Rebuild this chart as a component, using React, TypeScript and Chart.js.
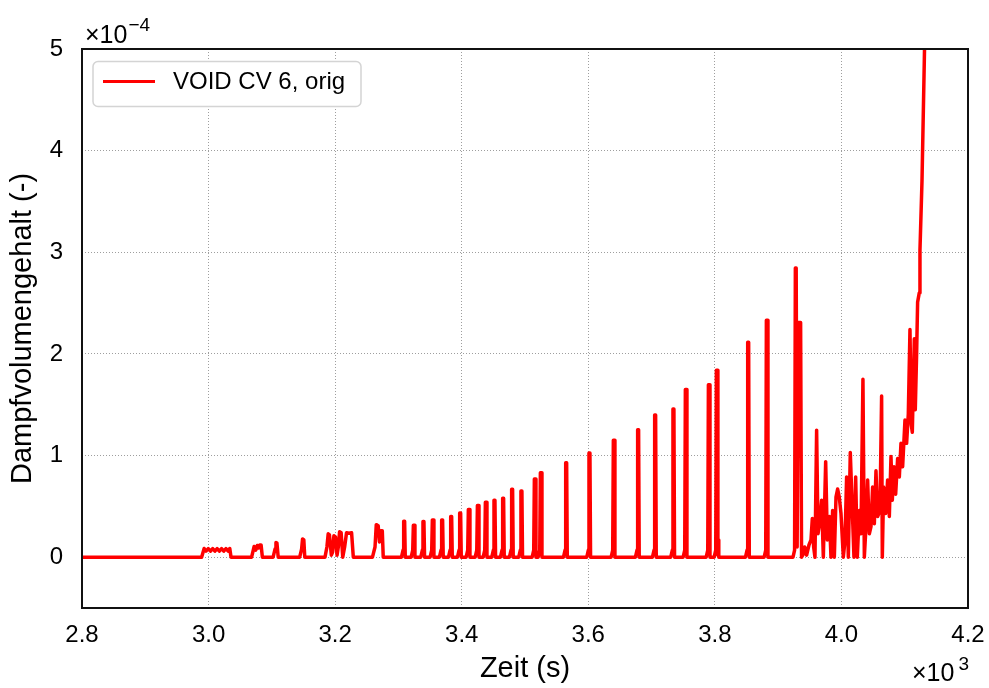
import React, { useEffect, useRef } from "react";
import { Chart, registerables } from "chart.js";

Chart.register(...registerables);

// x tick values (s) and y tick values (×10^-4)
const xTicks = [2800, 3000, 3200, 3400, 3600, 3800, 4000, 4200];
const yTicks = [0, 1, 2, 3, 4, 5];

const seriesLabel = "VOID CV 6, orig";

// Zeit in s
const zeitS = [
  2800,
  2989, 2993, 2996, 2999.5, 3003, 3006.5, 3010, 3013.5, 3017, 3020.5, 3024, 3027.5, 3031, 3033.5, 3035.5,
  3068, 3072, 3074.5, 3077, 3079, 3081, 3083, 3085,
  3102, 3105, 3106.5, 3108, 3110,
  3144, 3147, 3148.5, 3150.5, 3152,
  3184, 3187, 3189, 3191, 3194, 3196, 3198, 3200.5, 3203, 3205, 3207, 3209.5, 3212, 3215, 3218, 3222, 3226, 3228.7,
  3259, 3263, 3265, 3268, 3270, 3272, 3274.5, 3276,
  3304.8, 3307.3, 3308.3, 3309.8, 3310.8,
  3320.1, 3322.6, 3323.6, 3325.1, 3326.1,
  3335.3, 3337.8, 3338.8, 3340.3, 3341.3,
  3350.1, 3352.6, 3353.6, 3355.1, 3356.1,
  3364.8, 3367.3, 3368.3, 3369.8, 3370.8,
  3379.1, 3381.6, 3382.6, 3384.1, 3385.1,
  3393.3, 3395.8, 3396.8, 3398.3, 3399.3,
  3407, 3409.5, 3410.5, 3412, 3413,
  3421.3, 3423.8, 3424.8, 3426.3, 3427.3,
  3433.9, 3436.4, 3437.4, 3438.9, 3439.9,
  3447.5, 3450, 3451, 3452.5, 3453.5,
  3461.2, 3463.7, 3464.7, 3466.2, 3467.2,
  3475.4, 3477.9, 3478.9, 3480.4, 3481.4,
  3490.1, 3492.6, 3493.6, 3495.1, 3496.1,
  3511.3, 3513.8, 3514.8, 3516.3, 3517.3,
  3520.8, 3523.3, 3524.3, 3525.8, 3526.8,
  3560.8, 3563.3, 3564.3, 3565.8, 3566.8,
  3597.6, 3600.1, 3601.1, 3602.6, 3603.6,
  3636.1, 3638.6, 3639.6, 3641.1, 3642.1,
  3674.5, 3677, 3678, 3679.5, 3680.5,
  3701.4, 3703.9, 3704.9, 3706.4, 3707.4,
  3730.3, 3732.8, 3733.8, 3735.3, 3736.3,
  3749.9, 3752.4, 3753.4, 3754.9, 3755.9,
  3786.3, 3788.8, 3789.8, 3791.3, 3792.3,
  3798.9, 3801.4, 3802.4, 3803.9, 3804.8, 3805.4, 3806.2,
  3848.4, 3850.9, 3851.9, 3853.4, 3854.4,
  3877.9, 3880.4, 3881.4, 3882.9, 3883.9,
  3923.5, 3926, 3927.2, 3928.5, 3930, 3932, 3935.5, 3937,
  3939.8, 3942, 3945, 3948.7, 3951.9, 3954, 3956.1, 3958.2, 3960.8, 3963, 3966.1,
  3968.7, 3971.4, 3975.1, 3977.7, 3980.9, 3983.5, 3986.1, 3988.8, 3991.4, 3994,
  3996.6, 3999.3, 4003, 4005.6, 4008.2, 4010.9, 4014, 4017.2, 4019.8, 4022.5,
  4025.1, 4028.3, 4030.9, 4034, 4036.2, 4038.8, 4041.4, 4044.1, 4046.7, 4049.3,
  4052, 4054.6, 4057.2, 4060.9, 4063.5, 4064.6, 4066.7, 4069.9, 4073, 4075.7,
  4078.3, 4080.4, 4083, 4085.7, 4088.8, 4091.5, 4094.1, 4096.7, 4100.4, 4103,
  4105.7, 4108.3, 4110.4, 4112, 4115.2, 4116.7, 4118.8, 4120.4, 4123, 4124.1,
  4127.3, 4131, 4133,
];

// Dampfvolumengehalt in units of 1e-4 (-)
const voidE4 = [
  0,
  0, 0.085, 0.06, 0.085, 0.06, 0.085, 0.06, 0.085, 0.06, 0.085, 0.06, 0.085, 0.06, 0.085, 0,
  0, 0.105, 0.07, 0.115, 0.09, 0.12, 0.12, 0,
  0, 0.08, 0.145, 0.14, 0,
  0, 0.08, 0.18, 0.17, 0,
  0, 0.1, 0.23, 0.22, 0.02, 0.05, 0.21, 0.2, 0.02, 0.1, 0.25, 0.24, 0, 0.1, 0.24, 0.235, 0.24, 0,
  0, 0.1, 0.32, 0.31, 0.15, 0.26, 0.26, 0,
  0, 0.07, 0.354, 0.354, 0,
  0, 0.07, 0.314, 0.314, 0,
  0, 0.07, 0.35, 0.35, 0,
  0, 0.07, 0.367, 0.367, 0,
  0, 0.07, 0.367, 0.367, 0,
  0, 0.07, 0.4, 0.4, 0,
  0, 0.07, 0.435, 0.435, 0,
  0, 0.07, 0.468, 0.468, 0,
  0, 0.07, 0.508, 0.508, 0,
  0, 0.07, 0.54, 0.54, 0,
  0, 0.07, 0.56, 0.56, 0,
  0, 0.07, 0.58, 0.58, 0,
  0, 0.07, 0.668, 0.668, 0,
  0, 0.07, 0.65, 0.65, 0,
  0, 0.07, 0.77, 0.77, 0,
  0, 0.07, 0.83, 0.83, 0,
  0, 0.07, 0.93, 0.93, 0,
  0, 0.07, 1.025, 1.025, 0,
  0, 0.07, 1.15, 1.15, 0,
  0, 0.07, 1.254, 1.254, 0,
  0, 0.07, 1.4, 1.4, 0,
  0, 0.07, 1.457, 1.457, 0,
  0, 0.07, 1.65, 1.65, 0,
  0, 0.07, 1.696, 1.696, 0,
  0, 0.07, 1.84, 1.84, 0.02, 0.17, 0,
  0, 0.07, 2.115, 2.115, 0,
  0, 0.07, 2.33, 2.33, 0,
  0, 0.07, 2.846, 2.846, 0.1, 2.31, 2.31, 0,
  0.03, 0.1, 0.02, 0.12, 0.17, 0.38, 0.1, 0, 1.25, 0.23, 0.36,
  0.56, 0, 0.94, 0.17, 0.4, 0, 0.46, 0, 0.59, 0.67,
  0.59, 0.43, 0, 0.16, 0.79, 0, 1.03, 0.46, 0, 0.79,
  0, 0.46, 0.23, 1.75, 0, 0.3, 0.76, 0.23, 0.3, 0.69,
  0.33, 0.85, 0.4, 0.46, 1.585, 0, 0.69, 0.43, 0.76, 0.4,
  0.99, 0.56, 0.89, 0.62, 0.97, 0.79, 1.12, 0.89, 1.35, 1.12,
  1.41, 2.24, 1.3, 1.23, 2.15, 1.45, 2.0, 2.51, 2.6, 3.02,
  3.7, 4.9, 5.6,
];

const FONT = "'Liberation Sans', Arial, Helvetica, sans-serif";

const overlayPlugin = {
  id: "matlabOverlay",
  afterDatasetsDraw(chart: any) {
    const { ctx, chartArea: a } = chart;
    ctx.save();

    // legend box
    const lx = a.left + 11;
    const ly = a.top + 12.5;
    const lw = 268;
    const lh = 45;
    ctx.beginPath();
    if ((ctx as any).roundRect) (ctx as any).roundRect(lx, ly, lw, lh, 5);
    else ctx.rect(lx, ly, lw, lh);
    ctx.fillStyle = "#ffffff";
    ctx.fill();
    ctx.lineWidth = 1.5;
    ctx.strokeStyle = "#d4d4d4";
    ctx.stroke();
    ctx.beginPath();
    ctx.moveTo(lx + 10, ly + 20);
    ctx.lineTo(lx + 62, ly + 20);
    ctx.strokeStyle = "#ff0000";
    ctx.lineWidth = 3;
    ctx.stroke();
    ctx.fillStyle = "#000000";
    ctx.font = `24px ${FONT}`;
    ctx.textBaseline = "middle";
    ctx.textAlign = "left";
    ctx.fillText(seriesLabel, lx + 80, ly + 21);

    // frame
    ctx.beginPath();
    ctx.rect(a.left, a.top, a.right - a.left, a.bottom - a.top);
    ctx.lineWidth = 2;
    ctx.strokeStyle = "#111111";
    ctx.stroke();

    // exponent labels
    ctx.textBaseline = "alphabetic";
    ctx.font = `25px ${FONT}`;
    const base = "\u00d710";
    const yw = ctx.measureText(base).width;
    ctx.fillText(base, a.left + 3, a.top - 6.5);
    ctx.font = `19px ${FONT}`;
    ctx.fillText("\u22124", a.left + 3 + yw + 1, a.top - 18);

    ctx.font = `25px ${FONT}`;
    const xw = ctx.measureText(base).width;
    const bx = a.right - 56;
    ctx.fillText(base, bx, a.bottom + 73);
    ctx.font = `19px ${FONT}`;
    ctx.fillText("3", bx + xw + 4, a.bottom + 62);

    ctx.restore();
  },
};

export default function App() {
  const canvasRef = useRef<HTMLCanvasElement | null>(null);

  useEffect(() => {
    document.body.style.margin = "0";
    const canvas = canvasRef.current;
    if (!canvas) return;
    const points = zeitS.map((t, i) => ({ x: t, y: voidE4[i] }));
    const gridColor = "rgba(0,0,0,0.38)";
    const chart = new Chart(canvas, {
      type: "line",
      data: {
        datasets: [
          {
            label: seriesLabel,
            data: points,
            borderColor: "#ff0000",
            backgroundColor: "#ff0000",
            borderWidth: 3.5,
            pointRadius: 0,
            tension: 0,
            fill: false,
            borderJoinStyle: "round",
            borderCapStyle: "round",
          },
        ],
      },
      options: {
        animation: false,
        responsive: false,
        devicePixelRatio: 1,
        parsing: false,
        normalized: true,
        layout: { padding: { left: 0, top: 49, right: 21, bottom: 0 } },
        plugins: {
          legend: { display: false },
          tooltip: { enabled: false },
        },
        scales: {
          x: {
            type: "linear",
            min: 2800,
            max: 4200,
            afterBuildTicks: (s: any) => {
              s.ticks = xTicks.map((v) => ({ value: v }));
            },
            afterFit: (s: any) => {
              s.height = 80;
              s.paddingLeft = 0;
              s.paddingRight = 0;
            },
            ticks: {
              autoSkip: false,
              maxRotation: 0,
              padding: 13,
              color: "#000",
              font: { family: FONT, size: 24 },
              callback: (v: any) => (Number(v) / 1000).toFixed(1),
            },
            grid: { color: gridColor, lineWidth: 1, drawTicks: false },
            border: { display: false, dash: [1, 2] },
            title: {
              display: true,
              text: "Zeit (s)",
              color: "#000",
              font: { family: FONT, size: 29 },
              padding: { top: 0, bottom: 2 },
            },
          },
          y: {
            type: "linear",
            min: -0.5,
            max: 5,
            afterBuildTicks: (s: any) => {
              s.ticks = yTicks.map((v) => ({ value: v }));
            },
            afterFit: (s: any) => {
              s.width = 82;
              s.paddingTop = 0;
              s.paddingBottom = 0;
            },
            ticks: {
              padding: 19,
              color: "#000",
              font: { family: FONT, size: 24 },
              callback: (v: any) => String(v),
            },
            grid: { color: gridColor, lineWidth: 1, drawTicks: false },
            border: { display: false, dash: [1, 2] },
            title: {
              display: true,
              text: "Dampfvolumengehalt (-)",
              color: "#000",
              font: { family: FONT, size: 29 },
              padding: { top: 6, bottom: 0 },
            },
          },
        },
      },
      plugins: [overlayPlugin],
    });
    return () => chart.destroy();
  }, []);

  return (
    <div style={{ position: "absolute", left: 0, top: 0, width: 989, height: 688 }}>
      <canvas ref={canvasRef} width={989} height={688} style={{ display: "block" }} />
    </div>
  );
}
